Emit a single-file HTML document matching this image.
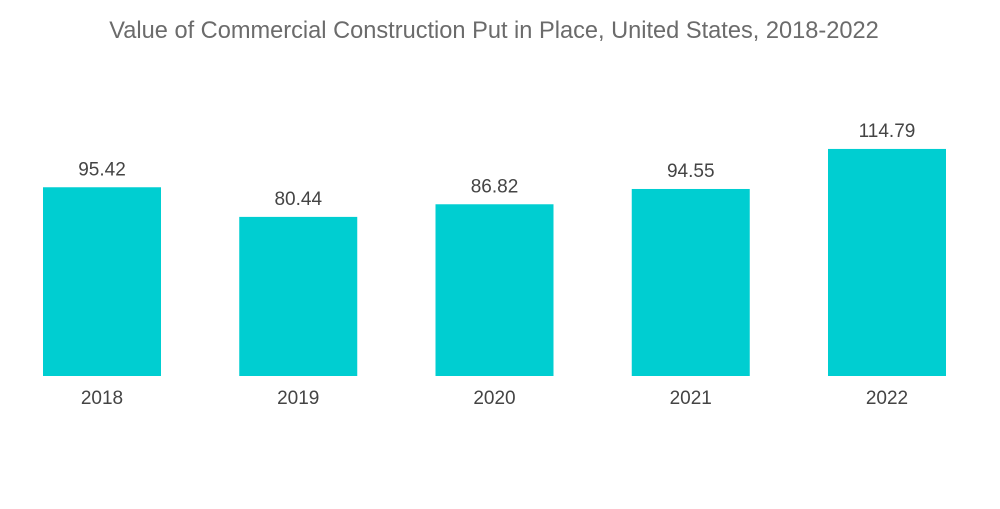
<!DOCTYPE html>
<html><head><meta charset="utf-8"><style>
body{margin:0;background:#fff;width:1000px;height:504px;overflow:hidden;font-family:"Liberation Sans",sans-serif}
</style></head><body>
<svg width="1000" height="504">
<text x="494" y="38" text-anchor="middle" font-size="23.6" fill="#6b6b6b">Value of Commercial Construction Put in Place, United States, 2018-2022</text>
<g id="bars"></g>
</svg>
<script>
const categories=["2018","2019","2020","2021","2022"];
const values=[95.42,80.44,86.82,94.55,114.79];
const labels=["95.42","80.44","86.82","94.55","114.79"];
const base=376, scale=1.978, x0=43, step=196.25, bw=118;
const yPos=v=>base-v*scale;
const xPos=i=>x0+i*step;
const g=document.getElementById('bars');
const ns="http://www.w3.org/2000/svg";
categories.forEach((c,i)=>{
  const r=document.createElementNS(ns,'rect');
  r.setAttribute('x',xPos(i));r.setAttribute('y',yPos(values[i]));
  r.setAttribute('width',bw);r.setAttribute('height',base-yPos(values[i]));
  r.setAttribute('fill','#00ced1');
  
  
  g.appendChild(r);
  const t=document.createElementNS(ns,'text');
  t.setAttribute('x',xPos(i)+bw/2);t.setAttribute('y',yPos(values[i])-12);
  t.setAttribute('text-anchor','middle');t.setAttribute('font-size','19');t.setAttribute('fill','#444');
  t.textContent=labels[i];
  
  
  g.appendChild(t);
  const a=document.createElementNS(ns,'text');
  a.setAttribute('x',xPos(i)+bw/2);a.setAttribute('y',404);
  a.setAttribute('text-anchor','middle');a.setAttribute('font-size','19');a.setAttribute('fill','#444');
  a.textContent=c;
  
  
  g.appendChild(a);
});
</script>
</body></html>
